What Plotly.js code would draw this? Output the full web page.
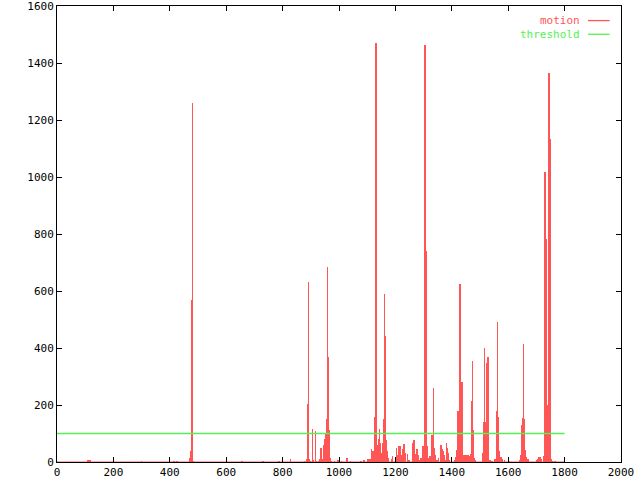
<!DOCTYPE html>
<html>
<head>
<meta charset="utf-8">
<script src="https://cdn.plot.ly/plotly-3.0.1.min.js"></script>
<style>html,body{margin:0;padding:0;background:#fff;}#chart{width:640px;height:480px;}</style>
</head>
<body>
<div id="chart"></div>
<script>
// motion values per frame (frames not listed are ~0)
const motionFrames = [
  110,114,118,300,415,425,470,473,476,479,481,484,
  656,731,787,829,
  878,884,888,891,893,896,900,905,909,916,920,929,933,936,940,945,948,952,956,958,961,965,968,973,985,996,1000,1010,1028,1040,
  1078,1086,1090,1100,1105,1110,1114,1118,1122,1127,1131,1134,1138,1141,1144,1148,1151,1155,1158,1162,1165,1169,1172,1176,1185,1190,
  1204,1208,1213,1216,1220,1224,1229,1233,1236,1242,1247,1250,1262,1266,1270,1277,1280,1284,1291,1295,1298,1302,1305,1309,1312,1316,1320,
  1323,1327,1330,1334,1337,1341,1348,1352,1359,1362,1366,1369,1373,1376,1380,1383,1387,1390,
  1411,1415,1418,1422,1425,1429,1432,1436,1440,1443,1447,1450,1454,1457,1461,1464,1468,1471,1474,1477,1481,1484,
  1509,1513,1517,1520,1524,1528,1531,1535,1540,1545,1552,1556,1559,1563,1566,1570,1574,1577,1581,1588,1605,
  1641,1645,1648,1652,1655,1659,1662,1666,1670,1673,1701,1705,1709,1713,1718,1724,
  1731,1734,1738,1741,1745,1748,1752,1755,1766
];
const motionValues = [
  8,6,8,4,5,5,14,38,70,567,1260,5,
  2,2,5,10,
  5,10,203,553,630,10,5,115,8,108,5,5,12,49,10,60,80,100,150,683,368,112,15,5,4,6,8,5,15,5,
  5,8,8,10,10,12,47,40,40,158,1470,1096,60,82,116,66,30,66,150,588,441,77,40,15,10,20,
  49,24,55,57,25,45,63,63,30,28,8,8,66,77,27,47,23,7,13,27,57,189,1464,739,57,15,15,
  20,60,95,260,50,25,8,15,30,60,45,38,25,8,65,50,30,7,
  7,17,42,180,180,623,448,281,13,25,12,25,12,25,13,20,28,214,354,112,13,7,
  33,141,400,139,347,367,20,7,4,4,10,10,180,490,158,40,18,13,10,7,4,
  8,25,130,154,413,150,43,17,9,3,7,12,16,16,9,20,
  1019,784,106,200,1366,1134,10,5,5
];
const frameRange = [0, 1800];
const thresholdValue = 100;
const xTicks = [0,200,400,600,800,1000,1200,1400,1600,1800,2000];
const yTicks = [0,200,400,600,800,1000,1200,1400,1600];
const seriesNames = ['motion','threshold'];

const RED = '#ff5555';
const GREEN = '#55f055';
const FONT = 'DejaVu Sans Mono';

const traces = [
  {type:'bar', x:motionFrames, y:motionValues, width:4.6,
   marker:{color:RED, line:{width:0}}, showlegend:false, hoverinfo:'skip'},
  {type:'scatter', mode:'lines', x:frameRange, y:[0,0],
   line:{color:RED, width:1}, showlegend:false, hoverinfo:'skip'},
  {type:'scatter', mode:'lines', x:frameRange, y:[thresholdValue, thresholdValue],
   line:{color:GREEN, width:1.3}, showlegend:false, hoverinfo:'skip'}
];

const axisCommon = {
  showgrid:false, zeroline:false, showline:true, linecolor:'#000', linewidth:1,
  mirror:'allticks', ticks:'inside', ticklen:5, tickcolor:'#000', tickwidth:1,
  ticklabeloverflow:'allow',
  tickfont:{family:FONT, size:11, color:'#000'}
};

const layout = {
  width:640, height:480,
  margin:{l:57, r:19, t:6, b:18, pad:0},
  paper_bgcolor:'#fff', plot_bgcolor:'#fff',
  showlegend:false,
  bargap:0,
  xaxis:Object.assign({}, axisCommon, {range:[0,2000], tickmode:'array', tickvals:xTicks, ticktext:xTicks.map(String)}),
  yaxis:Object.assign({}, axisCommon, {range:[0,1600], tickmode:'array', tickvals:yTicks, ticktext:yTicks.map(String)}),
  annotations:[
    {xref:'paper', yref:'paper', x:0.929, y:0.968, xanchor:'right', yanchor:'middle', showarrow:false, borderpad:0,
     text:seriesNames[0], font:{family:FONT, size:11, color:RED}},
    {xref:'paper', yref:'paper', x:0.929, y:0.938, xanchor:'right', yanchor:'middle', showarrow:false, borderpad:0,
     text:seriesNames[1], font:{family:FONT, size:11, color:GREEN}}
  ],
  shapes:[
    {type:'line', xref:'paper', yref:'paper', x0:0.9415, x1:0.980, y0:0.968, y1:0.968, line:{color:RED, width:1.3}},
    {type:'line', xref:'paper', yref:'paper', x0:0.9415, x1:0.980, y0:0.938, y1:0.938, line:{color:GREEN, width:1.3}}
  ]
};

Plotly.newPlot('chart', traces, layout, {staticPlot:true, displayModeBar:false});
</script>
</body>
</html>
